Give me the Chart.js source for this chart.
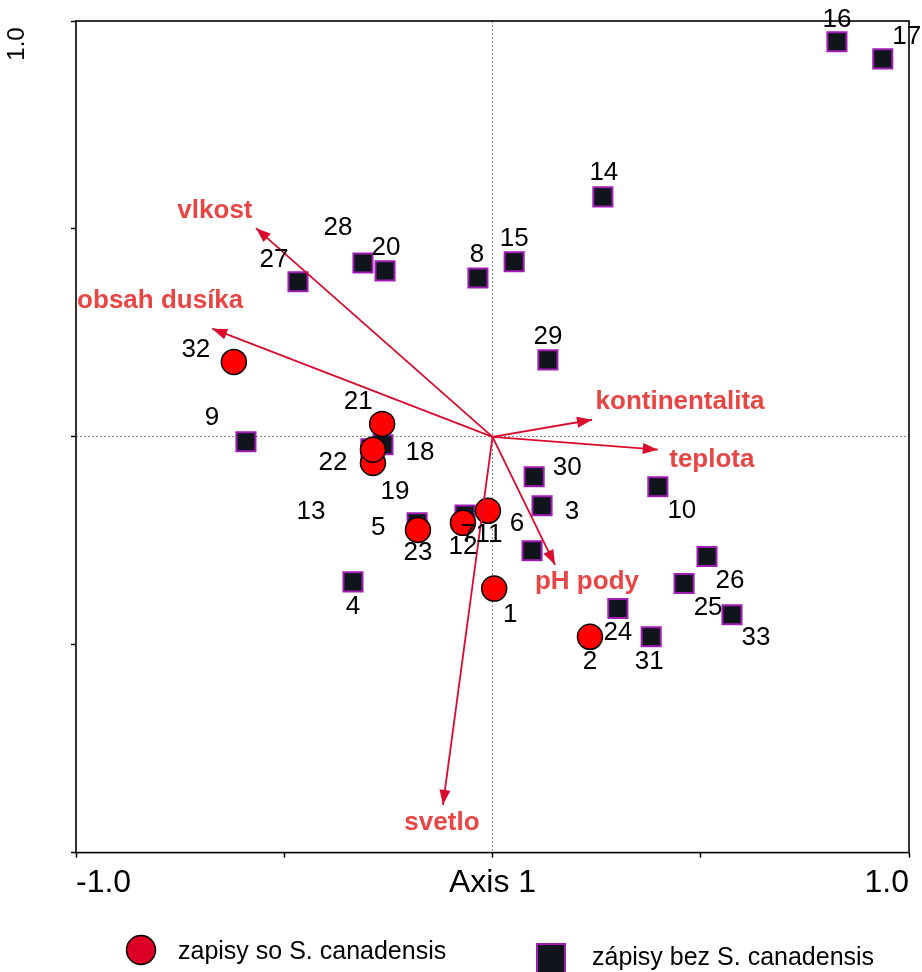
<!DOCTYPE html>
<html>
<head>
<meta charset="utf-8">
<script src="https://cdn.jsdelivr.net/npm/chart.js@4.4.0/dist/chart.umd.min.js"></script>
<style>
  html, body { margin: 0; padding: 0; background: #fff; }
</style>
</head>
<body>
<canvas id="myChart" width="922" height="972"></canvas>
<script>
// records with S. canadensis (circles)
const withIds = [1, 2, 11, 12, 19, 21, 22, 23, 32];
const withX = [0.004, 0.234, -0.011, -0.071, -0.287, -0.265, -0.287, -0.179, -0.621];
const withY = [-0.365, -0.481, -0.178, -0.207, -0.063, 0.031, -0.031, -0.224, 0.180];

// records without S. canadensis (squares)
const withoutIds = [3, 4, 5, 6, 7, 8, 9, 10, 13, 14, 15, 16, 17, 18, 28, 20, 24, 25, 26, 27, 29, 30, 31, 33];
const withoutX = [0.119, -0.335, -0.181, 0.095, -0.066, -0.035, -0.592, 0.397, -0.292, 0.265, 0.052, 0.827, 0.937, -0.263, -0.311, -0.258, 0.301, 0.460, 0.515, -0.467, 0.133, 0.100, 0.381, 0.575];
const withoutY = [-0.166, -0.349, -0.207, -0.274, -0.188, 0.382, -0.012, -0.120, -0.029, 0.577, 0.421, 0.950, 0.909, -0.019, 0.418, 0.399, -0.413, -0.353, -0.288, 0.373, 0.185, -0.096, -0.481, -0.428];

// environmental variables (arrows from the origin)
const envNames = ['vlkost', 'obsah dusíka', 'kontinentalita', 'teplota', 'pH pody', 'svetlo'];
const envX = [-0.568, -0.673, 0.239, 0.397, 0.150, -0.119];
const envY = [0.502, 0.260, 0.041, -0.031, -0.308, -0.885];

// label placement (pixel offsets from the marker)
const withLabelOffsets = [[16, 26], [0, 25], [1, 24], [0, 24], [22, 29], [-24, -22], [-40, 13], [0, 23], [-38, -12]];
const withoutLabelOffsets = [[30, 6], [0, 25], [-39, 5], [-15, -27], [3, 20], [-1, -23], [-34, -24], [24, 24], [-60, 63], [1, -24],
  [0, -23], [0, -22], [24, -22], [37, 8], [-25, -35], [1, -23], [0, 24], [24, 24], [23, 24], [-24, -22], [0, -23], [33, -9], [-2, 25], [24, 23]];
const envLabelOffsets = [[-41, -17], [-52, -28], [88, -18], [54, 10], [32, 17], [-1, 18]];

const FONT = '"Liberation Sans", Arial, sans-serif';
const ARROW_COLOR = '#dc0a2d';
const ENV_TEXT = '#e84545';
const SQ_FILL = '#10151c';
const SQ_EDGE = '#a01eb4';

const toPoints = (xs, ys) => xs.map((x, i) => ({ x: x, y: ys[i] }));

const datasets = [
    {
        label: 'zapisy so S. canadensis',
        data: toPoints(withX, withY),
        pointStyle: 'circle',
        pointRadius: 12.5,
        pointHoverRadius: 12.5,
        backgroundColor: '#ff0000',
        borderColor: '#000',
        borderWidth: 1.5,
        order: 1
    },
    {
        label: 'zápisy bez S. canadensis',
        data: toPoints(withoutX, withoutY),
        pointStyle: 'rect',
        pointRadius: 13.5,
        pointHoverRadius: 13.5,
        backgroundColor: SQ_FILL,
        borderColor: SQ_EDGE,
        borderWidth: 2,
        order: 2
    }
];

envNames.forEach((name, i) => {
    datasets.push({
        label: name,
        data: [{ x: 0, y: 0 }, { x: envX[i], y: envY[i] }],
        showLine: true,
        borderColor: ARROW_COLOR,
        borderWidth: 1.8,
        pointRadius: 0,
        pointHoverRadius: 0,
        order: 0
    });
});

const biplotExtras = {
    id: 'biplotExtras',
    beforeDatasetsDraw(chart) {
        const { ctx, chartArea: a } = chart;
        ctx.save();
        ctx.strokeStyle = '#000';
        ctx.lineWidth = 1.6;
        ctx.strokeRect(a.left, a.top, a.right - a.left, a.bottom - a.top);
        ctx.restore();
    },
    afterDatasetsDraw(chart) {
        const ctx = chart.ctx;
        ctx.save();

        // arrow heads and variable names
        envNames.forEach((name, i) => {
            const meta = chart.getDatasetMeta(2 + i);
            const p0 = meta.data[0], p1 = meta.data[1];
            const ang = Math.atan2(p1.y - p0.y, p1.x - p0.x);
            const len = 15, half = 5.5;
            const bx = p1.x - len * Math.cos(ang), by = p1.y - len * Math.sin(ang);
            ctx.fillStyle = ARROW_COLOR;
            ctx.beginPath();
            ctx.moveTo(p1.x, p1.y);
            ctx.lineTo(bx + half * Math.sin(ang), by - half * Math.cos(ang));
            ctx.lineTo(bx - half * Math.sin(ang), by + half * Math.cos(ang));
            ctx.closePath();
            ctx.fill();

            ctx.font = 'bold 26px ' + FONT;
            ctx.fillStyle = ENV_TEXT;
            ctx.textAlign = 'center';
            ctx.textBaseline = 'middle';
            ctx.fillText(name, p1.x + envLabelOffsets[i][0], p1.y + envLabelOffsets[i][1]);
        });

        // record numbers
        ctx.font = '26px ' + FONT;
        ctx.fillStyle = '#000';
        ctx.textAlign = 'center';
        ctx.textBaseline = 'middle';
        chart.getDatasetMeta(1).data.forEach((pt, i) => {
            ctx.fillText(String(withoutIds[i]), pt.x + withoutLabelOffsets[i][0], pt.y + withoutLabelOffsets[i][1]);
        });
        chart.getDatasetMeta(0).data.forEach((pt, i) => {
            ctx.fillText(String(withIds[i]), pt.x + withLabelOffsets[i][0], pt.y + withLabelOffsets[i][1]);
        });

        // top y tick label, rotated
        const yTop = chart.scales.y.getPixelForValue(1);
        ctx.save();
        ctx.translate(17, yTop + 23);
        ctx.rotate(-Math.PI / 2);
        ctx.font = '24px ' + FONT;
        ctx.fillText('1.0', 0, 0);
        ctx.restore();

        // legend
        ctx.textAlign = 'left';
        ctx.font = '25px ' + FONT;
        ctx.beginPath();
        ctx.arc(141, 950, 14.5, 0, Math.PI * 2);
        ctx.fillStyle = '#dc0026';
        ctx.fill();
        ctx.lineWidth = 1.5;
        ctx.strokeStyle = '#000';
        ctx.stroke();
        ctx.fillStyle = '#000';
        ctx.fillText(datasets[0].label, 178, 952);

        ctx.fillStyle = SQ_FILL;
        ctx.fillRect(537, 944, 28, 30);
        ctx.strokeStyle = SQ_EDGE;
        ctx.lineWidth = 2;
        ctx.strokeRect(537, 944, 28, 30);
        ctx.fillStyle = '#000';
        ctx.fillText(datasets[1].label, 592, 958);

        ctx.restore();
    }
};

const zeroGrid = (c) => (c.tick && c.tick.value === 0 ? '#8a8a8a' : 'rgba(0,0,0,0)');

const ctx = document.getElementById('myChart').getContext('2d');
new Chart(ctx, {
    type: 'scatter',
    data: { datasets: datasets },
    options: {
        responsive: false,
        animation: false,
        layout: { autoPadding: false, padding: { left: 71, top: 21, right: 13, bottom: 64 } },
        plugins: {
            legend: { display: false },
            tooltip: { enabled: false }
        },
        scales: {
            x: {
                type: 'linear',
                min: -1,
                max: 1,
                ticks: {
                    stepSize: 0.5,
                    autoSkip: false,
                    maxRotation: 0,
                    align: 'inner',
                    padding: 6,
                    color: '#000',
                    font: { family: FONT, size: 32 },
                    callback: (v) => (v === -1 ? '-1.0' : v === 0 ? 'Axis 1' : v === 1 ? '1.0' : '')
                },
                grid: {
                    color: zeroGrid,
                    lineWidth: 1,
                    tickColor: '#000',
                    tickWidth: 1.5,
                    tickLength: 5
                },
                border: { display: false, dash: [2, 2] }
            },
            y: {
                type: 'linear',
                min: -1,
                max: 1,
                ticks: { stepSize: 0.5, display: false },
                grid: {
                    color: zeroGrid,
                    lineWidth: 1,
                    tickColor: '#000',
                    tickWidth: 1.5,
                    tickLength: 5
                },
                border: { display: false, dash: [2, 2] }
            }
        }
    },
    plugins: [biplotExtras]
});
</script>
</body>
</html>
